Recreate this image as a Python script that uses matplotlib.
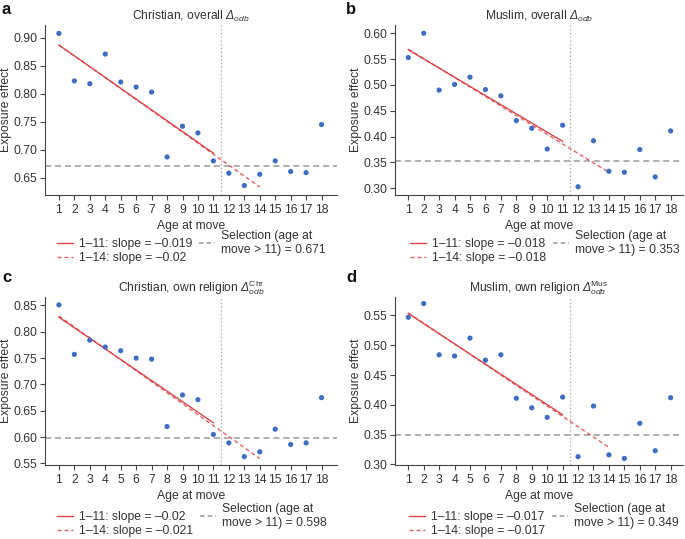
import numpy as np
import matplotlib
matplotlib.use("Agg")
import matplotlib.pyplot as plt

plt.rcParams["font.family"] = ["Liberation Sans", "DejaVu Sans"]
plt.rcParams["mathtext.fontset"] = "custom"
# Greek capitals are drawn from the 'rm' slot, so make it italic to get an italic Delta
plt.rcParams["mathtext.rm"] = "Liberation Sans:italic"
plt.rcParams["mathtext.it"] = "Liberation Sans:italic"
plt.rcParams["mathtext.sf"] = "Liberation Sans"

ages = np.arange(1, 19)

christian_overall = [0.908, 0.823, 0.818, 0.871, 0.821, 0.812, 0.803, 0.687, 0.742,
                     0.730, 0.680, 0.658, 0.636, 0.656, 0.680, 0.661, 0.659, 0.745]
muslim_overall = [0.553, 0.600, 0.490, 0.501, 0.515, 0.491, 0.479, 0.431, 0.416,
                  0.376, 0.422, 0.303, 0.392, 0.333, 0.331, 0.375, 0.322, 0.411]
christian_own = [0.851, 0.757, 0.784, 0.771, 0.764, 0.750, 0.748, 0.620, 0.680,
                 0.671, 0.605, 0.589, 0.563, 0.572, 0.615, 0.586, 0.589, 0.675]
muslim_own = [0.547, 0.570, 0.484, 0.482, 0.512, 0.475, 0.484, 0.411, 0.395,
              0.379, 0.413, 0.313, 0.398, 0.316, 0.310, 0.369, 0.323, 0.412]

slope_1_11 = [-0.019, -0.018, -0.02, -0.017]
slope_1_14 = [-0.02, -0.018, -0.021, -0.017]
selection = [0.671, 0.353, 0.598, 0.349]

panel_letters = ["a", "b", "c", "d"]
titles = [
    r"Christian, overall $\Delta_{odb}$",
    r"Muslim, overall $\Delta_{odb}$",
    r"Christian, own religion $\Delta_{odb}^{\mathsf{Chr}}$",
    r"Muslim, own religion $\Delta_{odb}^{\mathsf{Mus}}$",
]
series = [christian_overall, muslim_overall, christian_own, muslim_own]

W, H = 685, 539
# axes boxes in pixels: left, top, right, bottom
boxes = [(45, 25, 337, 195), (395, 25, 683, 195),
         (45, 297, 337, 465), (395, 297, 683, 465)]
xlims = [(0.1, 19.0), (0.14, 18.8), (0.1, 19.0), (0.14, 18.8)]
ylims = [(0.619, 0.923), (0.287, 0.616), (0.547, 0.866), (0.299, 0.581)]
yticks = [np.arange(0.65, 0.91, 0.05), np.arange(0.30, 0.61, 0.05),
          np.arange(0.55, 0.86, 0.05), np.arange(0.30, 0.56, 0.05)]
legend_anchor = [(57, 230), (410, 230), (57, 503), (409, 503)]
letter_pos = [(2, 2), (346, 2), (2, 270), (346, 270)]

BLUE = "#3d6cc0"
RED = "#d9474b"
GREY = "#9a9a9a"
TXT = "#333333"
FS = 8.7

fig = plt.figure(figsize=(W / 100, H / 100), dpi=100)

for i in range(4):
    l, t, r, b = boxes[i]
    ax = fig.add_axes([l / W, 1 - b / H, (r - l) / W, (b - t) / H])
    y = np.array(series[i])

    ax.axhline(selection[i], color=GREY, lw=1.1, dashes=(4, 2.5), zorder=1)
    ax.axvline(11.5, color="#a0a0a0", lw=0.9, ls=(0, (1, 2)), zorder=1)

    m1 = ages <= 11
    p1 = np.polyfit(ages[m1], y[m1], 1)
    m2 = ages <= 14
    p2 = np.polyfit(ages[m2], y[m2], 1)
    x1 = ages[m1]
    x2 = ages[m2]
    lab1 = f"1\u201311: slope = {slope_1_11[i]:g}".replace("-", "\u2013")
    lab2 = f"1\u201314: slope = {slope_1_14[i]:g}".replace("-", "\u2013")
    lab3 = f"Selection (age at\nmove > 11) = {selection[i]:.3f}"
    h1, = ax.plot(x1, np.polyval(p1, x1), color=RED, lw=1.0, zorder=2)
    h2, = ax.plot(x2, np.polyval(p2, x2), color=RED, lw=1.0, dashes=(3, 2),
                  alpha=0.85, zorder=2)
    h3 = plt.Line2D([], [], color=GREY, lw=1.1, dashes=(3, 2))

    ax.scatter(ages, y, s=14, color=BLUE, edgecolors="none", zorder=3)

    ax.set_xlim(*xlims[i])
    ax.set_ylim(*ylims[i])
    ax.set_xticks(ages)
    ax.set_yticks(yticks[i])
    ax.set_yticklabels([f"{v:.2f}" for v in yticks[i]])
    for s in ["top", "right"]:
        ax.spines[s].set_visible(False)
    for s in ["left", "bottom"]:
        ax.spines[s].set_color("#444444")
        ax.spines[s].set_linewidth(0.8)
    ax.tick_params(axis="both", direction="out", length=3.5, width=0.8,
                   colors="#444444", labelcolor=TXT, labelsize=FS, pad=2)
    ax.tick_params(axis="x", pad=3)
    ax.set_xlabel("Age at move", fontsize=FS, color=TXT, labelpad=3)
    ax.set_ylabel("Exposure effect", fontsize=FS, color=TXT, labelpad=1)
    ax.set_title(titles[i], fontsize=FS, color=TXT, pad=4)

    lx, ly = legend_anchor[i]
    leg = ax.legend([h1, h2, h3], [lab1, lab2, lab3], ncol=2, loc="upper left",
                    bbox_to_anchor=(lx / W, 1 - ly / H), bbox_transform=fig.transFigure,
                    frameon=False, fontsize=FS, borderpad=0, borderaxespad=0,
                    handlelength=1.3, handletextpad=0.5, columnspacing=0.6,
                    labelspacing=0.15)
    for txt in leg.get_texts():
        txt.set_color(TXT)

    fx, fy = letter_pos[i]
    fig.text(fx / W, 1 - fy / H, panel_letters[i], fontsize=12, fontweight="bold",
             va="top", ha="left", color="#111111")

fig.savefig("out.png", dpi=100)
